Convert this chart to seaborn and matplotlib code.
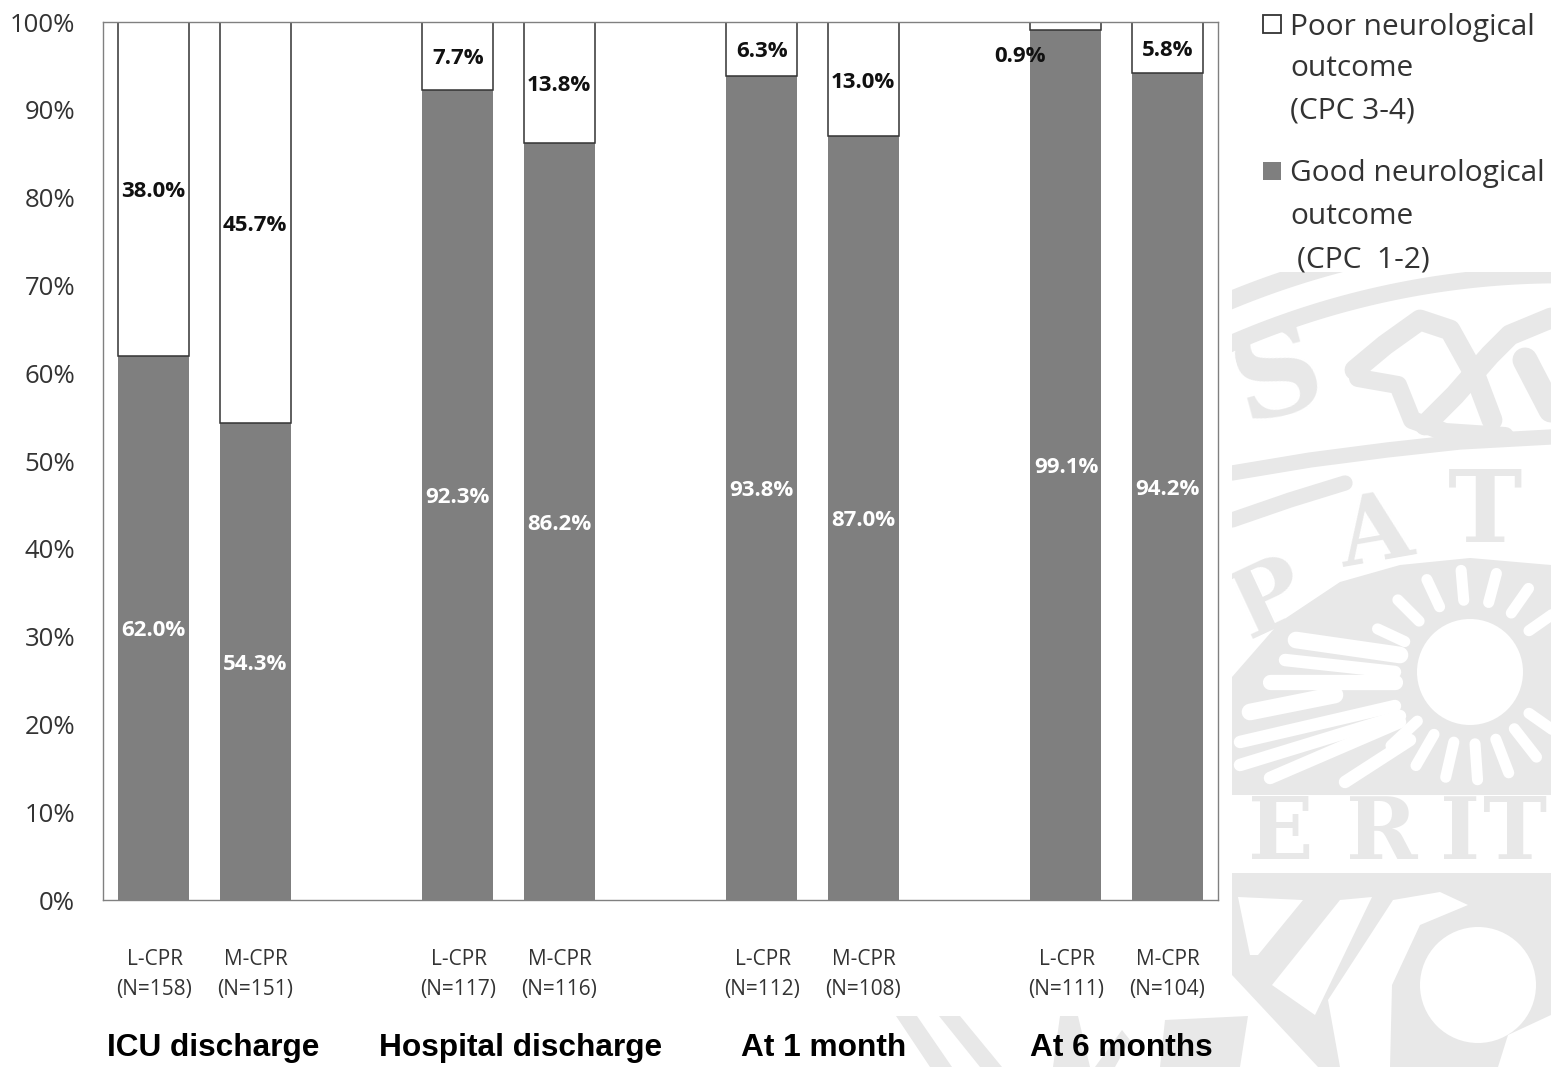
import numpy as np
import pandas as pd
import matplotlib
matplotlib.use("Agg")
import matplotlib.pyplot as plt
from matplotlib.patches import Rectangle, Circle, Polygon
import seaborn as sns

# Outcome shares per time point, in percent
timepoints = ["ICU discharge", "Hospital discharge", "At 1 month", "At 6 months"]
arm_labels = ["L-CPR", "M-CPR"]
sample_sizes = [158, 151, 117, 116, 112, 108, 111, 104]
good_outcome = [62.0, 54.3, 92.3, 86.2, 93.8, 87.0, 99.1, 94.2]
poor_outcome = [38.0, 45.7, 7.7, 13.8, 6.3, 13.0, 0.9, 5.8]
y_ticks = list(range(0, 101, 10))

W, H = 1551, 1067
GREY = "#7f7f7f"
SEAL = "#e8e8e8"
TEXT = "#333333"

sns.set_theme(style="white")
plt.rcParams["font.family"] = ["Open Sans", "DejaVu Sans"]

fig = plt.figure(figsize=(W / 100, H / 100), dpi=100, facecolor="white")

# University seal sitting behind the chart, laid out in pixel coordinates
bg = fig.add_axes([0, 0, 1, 1], zorder=0)
bg.set_xlim(0, W)
bg.set_ylim(H, 0)
bg.axis("off")


def stroke(pts, lw, color=SEAL):
    xs, ys = zip(*pts)
    bg.plot(xs, ys, color=color, lw=lw, solid_capstyle="round", solid_joinstyle="round")


def arc(cx, cy, r, a0, a1, lw, color=SEAL):
    t = np.radians(np.linspace(a0, a1, 80))
    bg.plot(cx + r * np.cos(t), cy + r * np.sin(t), color=color, lw=lw, solid_capstyle="butt")


def fill(pts, color=SEAL):
    bg.add_patch(Polygon(pts, fc=color, ec="none"))


# outer rings
arc(1560, 1100, 865, 240, 262, 13)
arc(1560, 1100, 825, 240, 272, 12)
stroke([(1232, 473), (1310, 460), (1387, 450), (1460, 442), (1551, 437)], 11)
stroke([(1232, 520), (1290, 500), (1345, 483)], 11)

# lettering around the rim
for s, x, y, fs, rot in [("S", 1278, 378, 88, 15), ("A", 1375, 535, 68, 10),
                         ("T", 1485, 515, 72, 0), ("P", 1270, 600, 68, 25)]:
    bg.text(x, y, s, fontsize=fs, family="DejaVu Serif", weight="bold",
            color=SEAL, ha="center", va="center", rotation=rot)

# scrollwork
stroke([(1355, 370), (1385, 345), (1420, 320), (1450, 330), (1475, 375), (1492, 420)], 15)
stroke([(1425, 425), (1455, 395), (1490, 355), (1510, 335), (1551, 318)], 15)
stroke([(1358, 378), (1398, 385), (1412, 420), (1445, 432), (1505, 436)], 13)
stroke([(1525, 360), (1551, 410)], 18)

# sun field with white slots cut between its rays
fill([(1232, 677), (1280, 622), (1340, 582), (1400, 565), (1470, 558), (1551, 565),
      (1551, 795), (1232, 795)])
bg.add_patch(Circle((1470, 672), 53, fc="white", ec="none"))
for a in list(range(205, 345, 20)) + list(range(35, 150, 17)):
    t = np.radians(a)
    reach = 102 if a > 180 else 108
    stroke([(1470 + 72 * np.cos(t), 672 + 72 * np.sin(t)),
            (1470 + reach * np.cos(t), 672 + reach * np.sin(t))], 8, "white")
for pts, lw in [([(1296, 640), (1400, 655)], 12), ([(1285, 660), (1395, 672)], 9),
                ([(1270, 682), (1395, 682)], 11), ([(1250, 712), (1335, 695)], 12),
                ([(1240, 742), (1395, 706)], 9), ([(1240, 765), (1400, 716)], 9),
                ([(1270, 778), (1400, 722)], 9), ([(1345, 782), (1410, 740)], 9)]:
    stroke(pts, lw, "white")

# lettering across the band
for s, x in [("E", 1281), ("R", 1382), ("I", 1460), ("T", 1515)]:
    bg.text(x, 835, s, fontsize=62, family="DejaVu Serif", weight="bold",
            color=SEAL, ha="center", va="center")

# lower crest with its cut-outs
fill([(1232, 873), (1551, 873), (1551, 1067), (1232, 1067)])
fill([(1238, 897), (1303, 900), (1258, 955), (1250, 955)], "white")
fill([(1340, 900), (1372, 897), (1315, 1015), (1272, 985)], "white")
fill([(1393, 900), (1440, 892), (1468, 905), (1420, 925), (1392, 985), (1390, 1067),
      (1340, 1067), (1328, 1000)], "white")
fill([(1232, 975), (1318, 1067), (1232, 1067)], "white")
bg.add_patch(Circle((1478, 985), 58, fc="white", ec="none"))
fill([(1508, 1035), (1551, 1015), (1551, 1067), (1498, 1067)], "white")

# lower strokes running under the group titles
for x0, x1 in [(896, 930), (939, 980)]:
    fill([(x0, 1016), (x0 + 21, 1016), (x1 + 22, 1067), (x1, 1067)])
fill([(1053, 1067), (1060, 1016), (1078, 1016), (1090, 1067)])
fill([(1095, 1067), (1122, 1030), (1130, 1040), (1115, 1067)])
fill([(1160, 1067), (1165, 1020), (1248, 1016), (1240, 1067)])

# white margins above everything in the seal: its left edge and the legend area
bg.add_patch(Rectangle((1200, 230), 32, 785, fc="white", ec="none", zorder=10))
bg.add_patch(Rectangle((1225, 0), W - 1225, 272, fc="white", ec="none", zorder=10))

# Stacked bars on 11 slots, the empty slots separating the time points
slots = [0, 1, 3, 4, 6, 7, 9, 10]
df = pd.DataFrame({"slot": slots, "good": good_outcome, "poor": poor_outcome})
order = list(range(11))

ax = fig.add_axes([103 / W, 1 - 900 / H, (1218 - 103) / W, (900 - 22) / H], zorder=2, facecolor="white")
sns.barplot(data=df, x="slot", y="good", order=order, color=GREY, saturation=1,
            width=0.7, errorbar=None, ax=ax, linewidth=0)
sns.barplot(data=df, x="slot", y="poor", order=order, color="white", saturation=1,
            width=0.7, errorbar=None, ax=ax, bottom=df["good"].values,
            edgecolor="#333333", linewidth=1.1)

ax.set_xlim(-0.5, 10.5)
ax.set_ylim(0, 100)
ax.set_yticks(y_ticks)
ax.set_yticklabels([f"{v}%" for v in y_ticks], fontsize=18.5, color=TEXT)
ax.set_xticks([])
ax.set_xlabel("")
ax.set_ylabel("")
ax.tick_params(axis="y", length=0, pad=20)
for sp in ax.spines.values():
    sp.set_color("#808080")
    sp.set_linewidth(1.0)

# Value labels in each segment
for x, g, p in zip(slots, good_outcome, poor_outcome):
    ax.text(x, g / 2 - 0.3, f"{g:.1f}%", color="white", weight="bold", fontsize=16,
            ha="center", va="center", zorder=5)
    # the thinnest segment cannot hold its label, which moves beside the bar
    px, py = (x - 0.45, 96.1) if p < 1 else (x, g + p / 2 - 0.35)
    ax.text(px, py, f"{p:.1f}%", color="#111111", weight="bold", fontsize=16,
            ha="center", va="center", zorder=5)

# Arm and sample size under each bar
for i, (x, n) in enumerate(zip(slots, sample_sizes)):
    ax.text(x + 0.01, -6.8, arm_labels[i % 2], ha="center", va="center",
            fontsize=15, color=TEXT, clip_on=False)
    ax.text(x, -10.2, f"(N={n})", ha="center", va="center",
            fontsize=15, color=TEXT, clip_on=False)

# Group titles
for name, px in zip(timepoints, [213, 521, 824, 1121]):
    fig.text(px / W, 1 - 1048 / H, name, ha="center", va="center", fontsize=22.8,
             weight="bold", family="Liberation Sans", color="black", zorder=5)

# Legend, typed line by line to keep its uneven indents
leg = [(1290, 27, "Poor neurological"), (1290, 69, "outcome"), (1290, 111, "(CPC 3-4)"),
       (1290, 174, "Good neurological"), (1290, 217, "outcome"), (1297, 260, "(CPC  1-2)")]
for x, y, s in leg:
    fig.text(x / W, 1 - y / H, s, fontsize=21.5, color=TEXT, ha="left", va="center", zorder=5)
fig.add_artist(Rectangle((1263 / W, 1 - 33 / H), 18 / W, 18 / H, transform=fig.transFigure,
                         fc="white", ec="#333333", lw=1.3, zorder=5))
fig.add_artist(Rectangle((1263 / W, 1 - 180 / H), 18 / W, 18 / H, transform=fig.transFigure,
                         fc=GREY, ec="none", zorder=5))

fig.savefig("out.png", dpi=100, facecolor="white")
